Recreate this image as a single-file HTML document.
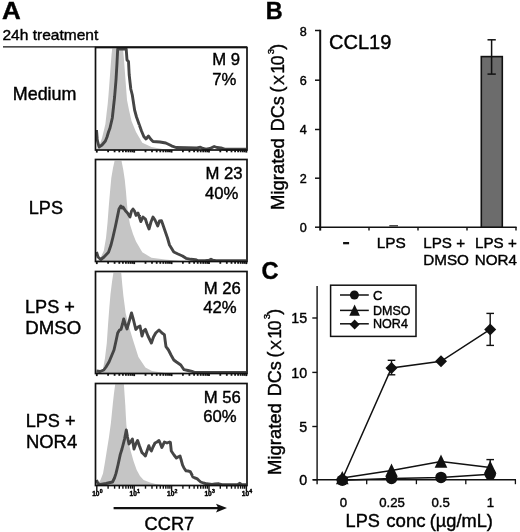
<!DOCTYPE html>
<html><head><meta charset="utf-8"><title>Figure</title>
<style>html,body{margin:0;padding:0;background:#fff;}body{width:520px;height:532px;overflow:hidden;font-family:"Liberation Sans",sans-serif;}svg{display:block;filter:grayscale(1) blur(0.3px);}text{stroke:#000;stroke-width:0.4px;}</style>
</head><body>
<svg width="520" height="532" viewBox="0 0 520 532" font-family="'Liberation Sans', sans-serif" fill="#000">
<rect width="520" height="532" fill="#fff"/>
<defs><filter id="rough" x="-2%" y="-5%" width="104%" height="110%"><feTurbulence type="fractalNoise" baseFrequency="0.4" numOctaves="1" seed="7" result="n"/><feDisplacementMap in="SourceGraphic" in2="n" scale="1.7" xChannelSelector="R" yChannelSelector="G"/></filter></defs>
<text transform="translate(2.0,19.0) scale(1.1,1)" font-size="23.6" font-weight="bold">A</text>
<text x="2.4" y="40.2" font-size="15.55">24h treatment</text>
<line x1="3" y1="46.9" x2="247" y2="46.9" stroke="#111" stroke-width="1.4"/>
<text transform="translate(12.8,100.3) scale(1,1)" font-size="17.9">Medium</text>
<text transform="translate(28.8,213.8) scale(1,1)" font-size="18.1">LPS</text>
<text transform="translate(25,313.2) scale(1,1)" font-size="18.1">LPS +</text>
<text transform="translate(25.3,334.4) scale(1.03,1)" font-size="18.1">DMSO</text>
<text transform="translate(25.7,427) scale(1,1)" font-size="18.1">LPS +</text>
<text transform="translate(25.9,448.2) scale(1.02,1)" font-size="18.1">NOR4</text>
<polygon points="96,149.5 99,147 102,138 104,130 105.4,124 106.5,114 107.7,104 108.5,95 110,75 111.5,55 112.2,48.5 123,48.5 124,60 125.5,80 127,100 129,110 131.5,121 136,132 142.3,142.7 151.5,147 165,149.5" fill="#c5c5c5"/>
<polyline points="96.5,130 97.3,140 99,147 102,145 105.4,141 107,137 108.5,132 110,128 112.3,118 113.5,107 114.6,97 116,80 117,63 117.7,49 126.2,49 127,60 128.5,61.5 129.2,75 130.8,89 132.3,95 134.6,110 136.5,117 139,124 141.5,131 143.8,136.5 146,139 148.5,136 151,139.5 153,141.5 160,142 165.8,143 171.5,145.8 176,147.5 197,148 200.4,147.2 203,148.5 206,149.2 210,148.5 214.2,146.5 217,147.5 221,148 224.6,149.2 246,149.2" fill="none" stroke="#454545" stroke-width="2.9" stroke-linejoin="round" filter="url(#rough)"/>
<rect x="95.5" y="47.5" width="151.5" height="102.5" fill="none" stroke="#111" stroke-width="1.7"/>
<g stroke="#111" stroke-width="1.8"><line x1="96.8" y1="150.0" x2="96.8" y2="152.6"/>
<line x1="108.1" y1="150.0" x2="108.1" y2="152.3"/>
<line x1="114.6" y1="150.0" x2="114.6" y2="152.3"/>
<line x1="119.3" y1="150.0" x2="119.3" y2="152.3"/>
<line x1="122.9" y1="150.0" x2="122.9" y2="152.3"/>
<line x1="125.9" y1="150.0" x2="125.9" y2="152.3"/>
<line x1="128.4" y1="150.0" x2="128.4" y2="152.3"/>
<line x1="130.6" y1="150.0" x2="130.6" y2="152.3"/>
<line x1="132.5" y1="150.0" x2="132.5" y2="152.3"/>
<line x1="134.2" y1="150.0" x2="134.2" y2="152.6"/>
<line x1="145.5" y1="150.0" x2="145.5" y2="152.3"/>
<line x1="152.0" y1="150.0" x2="152.0" y2="152.3"/>
<line x1="156.7" y1="150.0" x2="156.7" y2="152.3"/>
<line x1="160.3" y1="150.0" x2="160.3" y2="152.3"/>
<line x1="163.3" y1="150.0" x2="163.3" y2="152.3"/>
<line x1="165.8" y1="150.0" x2="165.8" y2="152.3"/>
<line x1="168.0" y1="150.0" x2="168.0" y2="152.3"/>
<line x1="169.9" y1="150.0" x2="169.9" y2="152.3"/>
<line x1="171.6" y1="150.0" x2="171.6" y2="152.6"/>
<line x1="182.9" y1="150.0" x2="182.9" y2="152.3"/>
<line x1="189.4" y1="150.0" x2="189.4" y2="152.3"/>
<line x1="194.1" y1="150.0" x2="194.1" y2="152.3"/>
<line x1="197.7" y1="150.0" x2="197.7" y2="152.3"/>
<line x1="200.7" y1="150.0" x2="200.7" y2="152.3"/>
<line x1="203.2" y1="150.0" x2="203.2" y2="152.3"/>
<line x1="205.4" y1="150.0" x2="205.4" y2="152.3"/>
<line x1="207.3" y1="150.0" x2="207.3" y2="152.3"/>
<line x1="209.0" y1="150.0" x2="209.0" y2="152.6"/>
<line x1="220.3" y1="150.0" x2="220.3" y2="152.3"/>
<line x1="226.8" y1="150.0" x2="226.8" y2="152.3"/>
<line x1="231.5" y1="150.0" x2="231.5" y2="152.3"/>
<line x1="235.1" y1="150.0" x2="235.1" y2="152.3"/>
<line x1="238.1" y1="150.0" x2="238.1" y2="152.3"/>
<line x1="240.6" y1="150.0" x2="240.6" y2="152.3"/>
<line x1="242.8" y1="150.0" x2="242.8" y2="152.3"/>
<line x1="244.7" y1="150.0" x2="244.7" y2="152.3"/>
<line x1="246.4" y1="150.0" x2="246.4" y2="152.6"/></g>
<text x="212.3" y="65.39999999999999" font-size="16.7">M 9</text>
<text x="212.3" y="84.5" font-size="16.7">7%</text>
<polygon points="96,261 100,259 103.8,250.8 106,238 107.5,223 108.8,206 110,192 111.3,178 113,168 114.6,160.8 121.5,160.8 123.3,170 124.8,180 126,192 126.8,202 127.5,210 130,224.6 133,234 136,241.5 142.3,252.3 151.5,257.7 165,259.5 180,261" fill="#c5c5c5"/>
<polyline points="96.5,252 98,257 100.8,259.5 104,257 108.5,252.3 111,245 113,237 115.5,226 117.7,215.4 119,209 120.8,206 122,208 123,207 125.4,210.8 127.5,213 130,217 131.5,211 133,209 134.5,211 136,215.4 138,213 140.8,221.5 143,217 145.4,219 147,224 149,229 151,222 153,217 155,220 157.7,226 159.5,221 161.5,220.8 163,225 165.4,232 167.5,238 169.5,245 173.8,252 178,254 182.5,256 186,258.3 191,259.3 195.5,259.6 197.5,260.6 205,260.6 209,260.3 211,259.3 213,260.3 216,260.6 246,260.6" fill="none" stroke="#454545" stroke-width="2.9" stroke-linejoin="round" filter="url(#rough)"/>
<rect x="95.5" y="159.5" width="151.5" height="102.0" fill="none" stroke="#111" stroke-width="1.7"/>
<g stroke="#111" stroke-width="1.8"><line x1="96.8" y1="261.5" x2="96.8" y2="264.1"/>
<line x1="108.1" y1="261.5" x2="108.1" y2="263.8"/>
<line x1="114.6" y1="261.5" x2="114.6" y2="263.8"/>
<line x1="119.3" y1="261.5" x2="119.3" y2="263.8"/>
<line x1="122.9" y1="261.5" x2="122.9" y2="263.8"/>
<line x1="125.9" y1="261.5" x2="125.9" y2="263.8"/>
<line x1="128.4" y1="261.5" x2="128.4" y2="263.8"/>
<line x1="130.6" y1="261.5" x2="130.6" y2="263.8"/>
<line x1="132.5" y1="261.5" x2="132.5" y2="263.8"/>
<line x1="134.2" y1="261.5" x2="134.2" y2="264.1"/>
<line x1="145.5" y1="261.5" x2="145.5" y2="263.8"/>
<line x1="152.0" y1="261.5" x2="152.0" y2="263.8"/>
<line x1="156.7" y1="261.5" x2="156.7" y2="263.8"/>
<line x1="160.3" y1="261.5" x2="160.3" y2="263.8"/>
<line x1="163.3" y1="261.5" x2="163.3" y2="263.8"/>
<line x1="165.8" y1="261.5" x2="165.8" y2="263.8"/>
<line x1="168.0" y1="261.5" x2="168.0" y2="263.8"/>
<line x1="169.9" y1="261.5" x2="169.9" y2="263.8"/>
<line x1="171.6" y1="261.5" x2="171.6" y2="264.1"/>
<line x1="182.9" y1="261.5" x2="182.9" y2="263.8"/>
<line x1="189.4" y1="261.5" x2="189.4" y2="263.8"/>
<line x1="194.1" y1="261.5" x2="194.1" y2="263.8"/>
<line x1="197.7" y1="261.5" x2="197.7" y2="263.8"/>
<line x1="200.7" y1="261.5" x2="200.7" y2="263.8"/>
<line x1="203.2" y1="261.5" x2="203.2" y2="263.8"/>
<line x1="205.4" y1="261.5" x2="205.4" y2="263.8"/>
<line x1="207.3" y1="261.5" x2="207.3" y2="263.8"/>
<line x1="209.0" y1="261.5" x2="209.0" y2="264.1"/>
<line x1="220.3" y1="261.5" x2="220.3" y2="263.8"/>
<line x1="226.8" y1="261.5" x2="226.8" y2="263.8"/>
<line x1="231.5" y1="261.5" x2="231.5" y2="263.8"/>
<line x1="235.1" y1="261.5" x2="235.1" y2="263.8"/>
<line x1="238.1" y1="261.5" x2="238.1" y2="263.8"/>
<line x1="240.6" y1="261.5" x2="240.6" y2="263.8"/>
<line x1="242.8" y1="261.5" x2="242.8" y2="263.8"/>
<line x1="244.7" y1="261.5" x2="244.7" y2="263.8"/>
<line x1="246.4" y1="261.5" x2="246.4" y2="264.1"/></g>
<text x="205.4" y="179.3" font-size="16.7">M 23</text>
<text x="204.9" y="198.60000000000002" font-size="16.7">40%</text>
<polygon points="96,373 100,372 103,369 105,358 106.8,343 108,325 109.3,308 110.5,294 112,282 113.4,272.8 121.2,272.8 122.4,286 123.4,296 124.6,305 125.6,313 127.5,321 130,330 133,340 138.4,357 145.4,367.5 152,371 165,373" fill="#c5c5c5"/>
<polyline points="96.5,371 100,371.5 103.8,370 106,367 109,362 111.5,356 114,350 116,341 117.7,333 119.5,330 121,329.4 122.5,324 123.7,319 125.5,325 127,329 129,322 131.5,313 133.5,320 135.8,329.4 138,327 140,326 142,336 143.5,331 145.4,329.4 148,336 151.4,343 153.5,337 155.7,333 159,330 162,333 164.4,334.6 165.2,341 166,346.7 168.5,350 171,355 173.8,360 176.5,362 180.8,365 184,369.7 188,370.5 192,371.4 195,372.5 246,372.5" fill="none" stroke="#454545" stroke-width="2.9" stroke-linejoin="round" filter="url(#rough)"/>
<rect x="95.5" y="271.5" width="151.5" height="102.0" fill="none" stroke="#111" stroke-width="1.7"/>
<g stroke="#111" stroke-width="1.8"><line x1="96.8" y1="373.5" x2="96.8" y2="376.1"/>
<line x1="108.1" y1="373.5" x2="108.1" y2="375.8"/>
<line x1="114.6" y1="373.5" x2="114.6" y2="375.8"/>
<line x1="119.3" y1="373.5" x2="119.3" y2="375.8"/>
<line x1="122.9" y1="373.5" x2="122.9" y2="375.8"/>
<line x1="125.9" y1="373.5" x2="125.9" y2="375.8"/>
<line x1="128.4" y1="373.5" x2="128.4" y2="375.8"/>
<line x1="130.6" y1="373.5" x2="130.6" y2="375.8"/>
<line x1="132.5" y1="373.5" x2="132.5" y2="375.8"/>
<line x1="134.2" y1="373.5" x2="134.2" y2="376.1"/>
<line x1="145.5" y1="373.5" x2="145.5" y2="375.8"/>
<line x1="152.0" y1="373.5" x2="152.0" y2="375.8"/>
<line x1="156.7" y1="373.5" x2="156.7" y2="375.8"/>
<line x1="160.3" y1="373.5" x2="160.3" y2="375.8"/>
<line x1="163.3" y1="373.5" x2="163.3" y2="375.8"/>
<line x1="165.8" y1="373.5" x2="165.8" y2="375.8"/>
<line x1="168.0" y1="373.5" x2="168.0" y2="375.8"/>
<line x1="169.9" y1="373.5" x2="169.9" y2="375.8"/>
<line x1="171.6" y1="373.5" x2="171.6" y2="376.1"/>
<line x1="182.9" y1="373.5" x2="182.9" y2="375.8"/>
<line x1="189.4" y1="373.5" x2="189.4" y2="375.8"/>
<line x1="194.1" y1="373.5" x2="194.1" y2="375.8"/>
<line x1="197.7" y1="373.5" x2="197.7" y2="375.8"/>
<line x1="200.7" y1="373.5" x2="200.7" y2="375.8"/>
<line x1="203.2" y1="373.5" x2="203.2" y2="375.8"/>
<line x1="205.4" y1="373.5" x2="205.4" y2="375.8"/>
<line x1="207.3" y1="373.5" x2="207.3" y2="375.8"/>
<line x1="209.0" y1="373.5" x2="209.0" y2="376.1"/>
<line x1="220.3" y1="373.5" x2="220.3" y2="375.8"/>
<line x1="226.8" y1="373.5" x2="226.8" y2="375.8"/>
<line x1="231.5" y1="373.5" x2="231.5" y2="375.8"/>
<line x1="235.1" y1="373.5" x2="235.1" y2="375.8"/>
<line x1="238.1" y1="373.5" x2="238.1" y2="375.8"/>
<line x1="240.6" y1="373.5" x2="240.6" y2="375.8"/>
<line x1="242.8" y1="373.5" x2="242.8" y2="375.8"/>
<line x1="244.7" y1="373.5" x2="244.7" y2="375.8"/>
<line x1="246.4" y1="373.5" x2="246.4" y2="376.1"/></g>
<text x="203.70000000000002" y="294.1" font-size="16.7">M 26</text>
<text x="203.20000000000002" y="313.1" font-size="16.7">42%</text>
<polygon points="96,485 97.8,483.8 100.5,480 103,473.4 105,462 107.3,447.5 109,437 110.9,423 111.8,414 112.8,404 113.9,394 115.2,384.3 123.9,384.3 124.6,395 125.3,405 125.8,415 126.4,425 128,440 130.7,451 133.5,461 136.7,470 140,476 143.6,480 150,482.5 155.7,484 162.7,485" fill="#c5c5c5"/>
<polyline points="96.5,480 98,483.5 100.4,484.5 106,483.5 112.5,482 114.5,478 116,473.4 118,465 120.3,454.4 122,449 124.6,438.8 126.3,430 127.5,437 129,444 130.5,442 132.4,439 133.2,444 134,449 135.8,444 137.6,440.5 139.5,446 142,452.7 143.5,454 145.4,456 147,451 148.8,445.7 150,449 151.4,451 153,447 155,443 157,442 159,440.5 160.5,444 161.8,447.5 163,445 164.4,442 167,443 169.6,442 170.4,442.3 171.3,451 174,455 176.4,458 178,457 180,456 181.2,460 182.5,464.8 184,468 186,470.8 188,471 190.3,471.7 191.5,474 193,477 195,478 197,478.6 199,480.5 200.7,482 203.5,483 206.7,483.8 212,484.5 215,484 218.8,483.8 222,484.7 236,484.7 238,484.5 239.6,483.3 241.5,484.5 243,484.7 246,484.7" fill="none" stroke="#454545" stroke-width="2.9" stroke-linejoin="round" filter="url(#rough)"/>
<rect x="95.5" y="383.5" width="151.5" height="102.0" fill="none" stroke="#111" stroke-width="1.7"/>
<g stroke="#111" stroke-width="1.4"><line x1="96.8" y1="485.5" x2="96.8" y2="491.0"/>
<line x1="108.1" y1="485.5" x2="108.1" y2="488.7"/>
<line x1="114.6" y1="485.5" x2="114.6" y2="488.7"/>
<line x1="119.3" y1="485.5" x2="119.3" y2="488.7"/>
<line x1="122.9" y1="485.5" x2="122.9" y2="488.7"/>
<line x1="125.9" y1="485.5" x2="125.9" y2="488.7"/>
<line x1="128.4" y1="485.5" x2="128.4" y2="488.7"/>
<line x1="130.6" y1="485.5" x2="130.6" y2="488.7"/>
<line x1="132.5" y1="485.5" x2="132.5" y2="488.7"/>
<line x1="134.2" y1="485.5" x2="134.2" y2="491.0"/>
<line x1="145.5" y1="485.5" x2="145.5" y2="488.7"/>
<line x1="152.0" y1="485.5" x2="152.0" y2="488.7"/>
<line x1="156.7" y1="485.5" x2="156.7" y2="488.7"/>
<line x1="160.3" y1="485.5" x2="160.3" y2="488.7"/>
<line x1="163.3" y1="485.5" x2="163.3" y2="488.7"/>
<line x1="165.8" y1="485.5" x2="165.8" y2="488.7"/>
<line x1="168.0" y1="485.5" x2="168.0" y2="488.7"/>
<line x1="169.9" y1="485.5" x2="169.9" y2="488.7"/>
<line x1="171.6" y1="485.5" x2="171.6" y2="491.0"/>
<line x1="182.9" y1="485.5" x2="182.9" y2="488.7"/>
<line x1="189.4" y1="485.5" x2="189.4" y2="488.7"/>
<line x1="194.1" y1="485.5" x2="194.1" y2="488.7"/>
<line x1="197.7" y1="485.5" x2="197.7" y2="488.7"/>
<line x1="200.7" y1="485.5" x2="200.7" y2="488.7"/>
<line x1="203.2" y1="485.5" x2="203.2" y2="488.7"/>
<line x1="205.4" y1="485.5" x2="205.4" y2="488.7"/>
<line x1="207.3" y1="485.5" x2="207.3" y2="488.7"/>
<line x1="209.0" y1="485.5" x2="209.0" y2="491.0"/>
<line x1="220.3" y1="485.5" x2="220.3" y2="488.7"/>
<line x1="226.8" y1="485.5" x2="226.8" y2="488.7"/>
<line x1="231.5" y1="485.5" x2="231.5" y2="488.7"/>
<line x1="235.1" y1="485.5" x2="235.1" y2="488.7"/>
<line x1="238.1" y1="485.5" x2="238.1" y2="488.7"/>
<line x1="240.6" y1="485.5" x2="240.6" y2="488.7"/>
<line x1="242.8" y1="485.5" x2="242.8" y2="488.7"/>
<line x1="244.7" y1="485.5" x2="244.7" y2="488.7"/>
<line x1="246.4" y1="485.5" x2="246.4" y2="491.0"/></g>
<text x="203.70000000000002" y="402.6" font-size="16.7">M 56</text>
<text x="203.20000000000002" y="421.90000000000003" font-size="16.7">60%</text>
<text x="92.2" y="496.1" font-size="6.6" font-weight="bold">10</text>
<text x="99.7" y="492.8" font-size="5.2" font-weight="bold">0</text>
<text x="129.6" y="496.1" font-size="6.6" font-weight="bold">10</text>
<text x="137.1" y="492.8" font-size="5.2" font-weight="bold">1</text>
<text x="167.0" y="496.1" font-size="6.6" font-weight="bold">10</text>
<text x="174.5" y="492.8" font-size="5.2" font-weight="bold">2</text>
<text x="204.4" y="496.1" font-size="6.6" font-weight="bold">10</text>
<text x="211.9" y="492.8" font-size="5.2" font-weight="bold">3</text>
<text x="241.8" y="496.1" font-size="6.6" font-weight="bold">10</text>
<text x="249.3" y="492.8" font-size="5.2" font-weight="bold">4</text>
<line x1="113.6" y1="508.1" x2="219" y2="508.1" stroke="#111" stroke-width="2.1"/>
<polygon points="216,503.8 227,508.1 216,512.4 218.2,508.1" fill="#111"/>
<text transform="translate(144.6,529.6) scale(0.975,1)" font-size="18.7">CCR7</text>
<text x="265.7" y="19.0" font-size="23.4" font-weight="bold">B</text>
<text x="329" y="48.6" font-size="20">CCL19</text>
<text transform="translate(284.3,210) rotate(-90) scale(1.05,1)" font-size="17.6">Migrated</text>
<text transform="translate(284.3,131.3) rotate(-90) scale(1.025,1)" font-size="17.6">DCs</text>
<text transform="translate(284.3,92.6) rotate(-90)" font-size="17.6"><tspan x="0" dy="-1.3">(</tspan><tspan x="7.7" dy="1.3" font-size="15">X</tspan><tspan x="18.9">1</tspan><tspan x="27.4">0</tspan><tspan x="38.4" dy="-10.5" font-size="9.5">3</tspan><tspan x="42.8" dy="9.2">)</tspan></text>
<line x1="320.2" y1="29.8" x2="320.2" y2="230.6" stroke="#111" stroke-width="2"/>
<line x1="319.2" y1="227.2" x2="516.6" y2="227.2" stroke="#111" stroke-width="1.6"/>
<line x1="315" y1="30.5" x2="320" y2="30.5" stroke="#111" stroke-width="1.5"/>
<text x="306.8" y="35.8" font-size="12.6" text-anchor="end">8</text>
<line x1="315" y1="80.2" x2="320" y2="80.2" stroke="#111" stroke-width="1.5"/>
<text x="306.8" y="85.10000000000001" font-size="12.6" text-anchor="end">6</text>
<line x1="315" y1="129.5" x2="320" y2="129.5" stroke="#111" stroke-width="1.5"/>
<text x="306.8" y="134.4" font-size="12.6" text-anchor="end">4</text>
<line x1="315" y1="178.2" x2="320" y2="178.2" stroke="#111" stroke-width="1.5"/>
<text x="306.8" y="183.1" font-size="12.6" text-anchor="end">2</text>
<line x1="315" y1="227.2" x2="320" y2="227.2" stroke="#111" stroke-width="1.5"/>
<text x="306.8" y="232.1" font-size="12.6" text-anchor="end">0</text>
<line x1="369" y1="227" x2="369" y2="230.6" stroke="#111" stroke-width="1.4"/>
<line x1="418" y1="227" x2="418" y2="230.6" stroke="#111" stroke-width="1.4"/>
<line x1="467" y1="227" x2="467" y2="230.6" stroke="#111" stroke-width="1.4"/>
<line x1="516" y1="227" x2="516" y2="230.6" stroke="#111" stroke-width="1.4"/>
<rect x="481.3" y="56.6" width="21" height="170.6" fill="#6c6c6c" stroke="#111" stroke-width="1.6"/>
<g stroke="#111" stroke-width="1.5"><line x1="491.6" y1="39.8" x2="491.6" y2="74.1"/><line x1="487.5" y1="39.8" x2="495.8" y2="39.8"/><line x1="487.5" y1="74.1" x2="495.8" y2="74.1"/></g>
<line x1="389.3" y1="225.8" x2="398" y2="225.8" stroke="#222" stroke-width="1.2"/>
<rect x="343.1" y="242" width="6" height="2.3" fill="#111"/>
<text x="376.8" y="248.2" font-size="15.4">LPS</text>
<text x="423.3" y="248.2" font-size="15.2">LPS +</text>
<text x="423.2" y="264.6" font-size="15.25">DMSO</text>
<text x="475" y="248.2" font-size="15.2">LPS +</text>
<text x="474.7" y="264.6" font-size="15.2">NOR4</text>
<text transform="translate(261.6,279.4) scale(0.97,1)" font-size="24.4" font-weight="bold">C</text>
<text transform="translate(280.8,475) rotate(-90) scale(1.05,1)" font-size="17.6">Migrated</text>
<text transform="translate(280.8,396.3) rotate(-90) scale(1.025,1)" font-size="17.6">DCs</text>
<text transform="translate(280.8,357.6) rotate(-90)" font-size="17.6"><tspan x="0" dy="-1.3">(</tspan><tspan x="7.7" dy="1.3" font-size="15">X</tspan><tspan x="18.9">1</tspan><tspan x="27.4">0</tspan><tspan x="38.4" dy="-10.5" font-size="9.5">3</tspan><tspan x="42.8" dy="9.2">)</tspan></text>
<line x1="317.1" y1="286" x2="317.1" y2="484.2" stroke="#111" stroke-width="1.4"/>
<line x1="313" y1="479.8" x2="516" y2="479.8" stroke="#111" stroke-width="1.4"/>
<line x1="312.3" y1="318" x2="317.1" y2="318" stroke="#111" stroke-width="1.4"/>
<text transform="translate(307.2,323.4) scale(0.95,1)" font-size="15" text-anchor="end">15</text>
<line x1="312.3" y1="372.4" x2="317.1" y2="372.4" stroke="#111" stroke-width="1.4"/>
<text transform="translate(307.2,377.79999999999995) scale(0.95,1)" font-size="15" text-anchor="end">10</text>
<line x1="312.3" y1="426.5" x2="317.1" y2="426.5" stroke="#111" stroke-width="1.4"/>
<text transform="translate(307.2,431.9) scale(0.95,1)" font-size="15" text-anchor="end">5</text>
<line x1="312.3" y1="479.8" x2="317.1" y2="479.8" stroke="#111" stroke-width="1.4"/>
<text transform="translate(307.2,485.2) scale(0.95,1)" font-size="15" text-anchor="end">0</text>
<line x1="366.7" y1="479.8" x2="366.7" y2="484.2" stroke="#111" stroke-width="1.3"/>
<line x1="416.4" y1="479.8" x2="416.4" y2="484.2" stroke="#111" stroke-width="1.3"/>
<line x1="465.8" y1="479.8" x2="465.8" y2="484.2" stroke="#111" stroke-width="1.3"/>
<line x1="515.4" y1="479.8" x2="515.4" y2="484.2" stroke="#111" stroke-width="1.3"/>
<text x="343.3" y="506.5" font-size="13.2" text-anchor="middle">0</text>
<text x="392" y="506.5" font-size="13.2" text-anchor="middle">0.25</text>
<text x="440.7" y="506.5" font-size="13.2" text-anchor="middle">0.5</text>
<text x="490.5" y="506.5" font-size="13.2" text-anchor="middle">1</text>
<text transform="translate(345.6,527) scale(1.03,1)" font-size="17.6">LPS</text>
<text transform="translate(386.2,527) scale(1.06,1)" font-size="17.6">conc</text>
<text transform="translate(429.8,527) scale(1.036,1)" font-size="17.6">(µg/mL)</text>
<rect x="330.6" y="285.2" width="85.4" height="51.2" fill="#fff" stroke="#111" stroke-width="1.5"/>
<line x1="340" y1="295" x2="368.8" y2="295" stroke="#111" stroke-width="1.5"/>
<line x1="340" y1="310.4" x2="368.8" y2="310.4" stroke="#111" stroke-width="1.5"/>
<line x1="340" y1="323.8" x2="368.8" y2="323.8" stroke="#111" stroke-width="1.5"/>
<circle cx="354.4" cy="295" r="4.5" fill="#111"/>
<polygon points="354.6,304.57599999999996 359.904,315.70399999999995 349.29600000000005,315.70399999999995" fill="#111"/>
<polygon points="354.6,319.4 359.6,324.4 354.6,329.4 349.6,324.4" fill="#111"/>
<text x="373" y="299.6" font-size="13.1">C</text>
<text transform="translate(373,315.4) scale(0.955,1)" font-size="13.1">DMSO</text>
<text transform="translate(373,328.4) scale(0.96,1)" font-size="13.1">NOR4</text>
<g stroke="#111" stroke-width="1.4"><line x1="391.5" y1="360.3" x2="391.5" y2="374.8"/><line x1="387.7" y1="360.3" x2="395.3" y2="360.3"/><line x1="387.7" y1="374.8" x2="395.3" y2="374.8"/></g>
<g stroke="#111" stroke-width="1.4"><line x1="490.2" y1="313.4" x2="490.2" y2="345.4"/><line x1="486.4" y1="313.4" x2="494.0" y2="313.4"/><line x1="486.4" y1="345.4" x2="494.0" y2="345.4"/></g>
<g stroke="#111" stroke-width="1.4"><line x1="490.2" y1="459.6" x2="490.2" y2="474"/><line x1="486.4" y1="459.6" x2="494.0" y2="459.6"/><line x1="486.4" y1="474" x2="494.0" y2="474"/></g>
<polyline points="342.3,479 391.5,368 441,361.3 490.2,329.4" fill="none" stroke="#111" stroke-width="1.5"/>
<polyline points="342.3,478 391.5,470.4 441,461.4 490.2,467.5" fill="none" stroke="#111" stroke-width="1.5"/>
<polyline points="342.3,480.2 391.5,478.4 441,477.4 490.2,474.2" fill="none" stroke="#111" stroke-width="1.5"/>
<polygon points="342.3,473 348.3,479 342.3,485 336.3,479" fill="#111"/>
<polygon points="391.5,362 397.5,368 391.5,374 385.5,368" fill="#111"/>
<polygon points="441,355.3 447,361.3 441,367.3 435,361.3" fill="#111"/>
<polygon points="490.2,323.4 496.2,329.4 490.2,335.4 484.2,329.4" fill="#111"/>
<polygon points="342.3,471.056 348.624,484.324 335.976,484.324" fill="#111"/>
<polygon points="391.5,463.45599999999996 397.824,476.724 385.176,476.724" fill="#111"/>
<polygon points="441,454.45599999999996 447.324,467.724 434.676,467.724" fill="#111"/>
<polygon points="490.2,460.556 496.524,473.824 483.876,473.824" fill="#111"/>
<circle cx="342.3" cy="480.2" r="5.75" fill="#111"/>
<circle cx="391.5" cy="478.4" r="5.75" fill="#111"/>
<circle cx="441" cy="477.4" r="5.75" fill="#111"/>
<circle cx="490.2" cy="474.2" r="5.75" fill="#111"/>
</svg>
</body></html>
